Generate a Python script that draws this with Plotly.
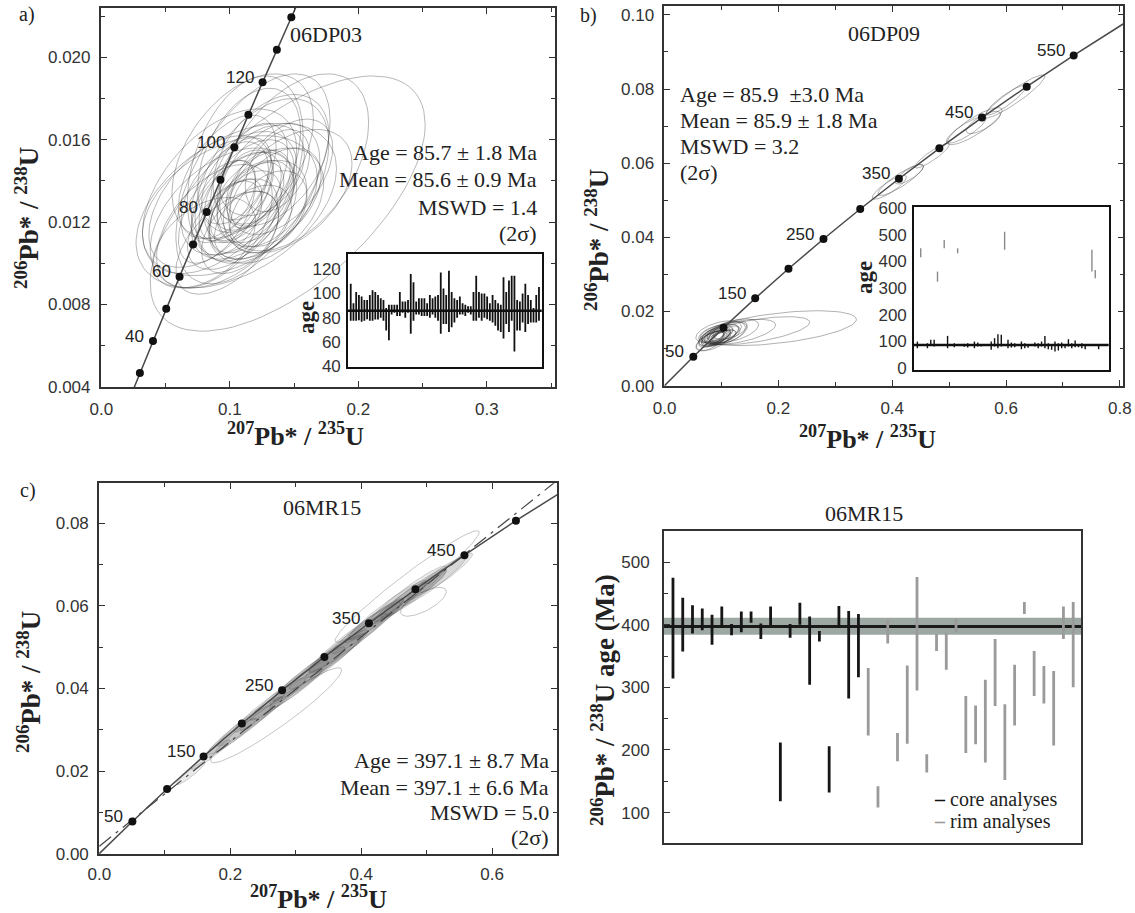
import numpy as np
import plotly.graph_objects as go

W, H = 1135, 913
SERIF = "Liberation Serif, Times New Roman, serif"
SANS = "Liberation Sans, Arial, sans-serif"
INK = "#333333"

# ---------------- data ----------------
# Concordia reference points (age in Ma, 207Pb*/235U, 206Pb*/238U)
conc_a_age = [20, 30, 40, 50, 60, 70, 80, 90, 100, 110, 120, 130, 140, 150]
conc_a_x = [0.01989, 0.02999, 0.04018, 0.05048, 0.06087, 0.07137, 0.08197,
            0.09268, 0.10350, 0.11442, 0.12545, 0.13659, 0.14784, 0.15920]
conc_a_y = [0.003107, 0.004665, 0.006224, 0.007786, 0.009351, 0.010918, 0.012487,
            0.014059, 0.015633, 0.017210, 0.018789, 0.020371, 0.021955, 0.023542]
conc_a_dots = [30, 40, 50, 60, 70, 80, 90, 100, 110, 120, 130, 140]
conc_a_labels = [40, 60, 80, 100, 120]

conc_bc_age = [0, 50, 100, 150, 200, 250, 300, 350, 400, 450, 500, 550, 600]
conc_bc_x = [0.0, 0.05048, 0.10350, 0.15920, 0.21771, 0.27917, 0.34374,
             0.41176, 0.48281, 0.55766, 0.63628, 0.71887, 0.80563]
conc_bc_y = [0.0, 0.007786, 0.015633, 0.023542, 0.031511, 0.039543, 0.047637,
             0.055795, 0.064016, 0.072300, 0.080650, 0.089064, 0.097544]
conc_b_dots = [50, 100, 150, 200, 250, 300, 350, 400, 450, 500, 550]
conc_b_labels = [50, 150, 250, 350, 450, 550]
conc_c_dots = [50, 100, 150, 200, 250, 300, 350, 400, 450, 500]
conc_c_labels = [50, 150, 250, 350, 450]

# reference (regression) line in panel c
c_ref_x = [0.0, 0.70]
c_ref_y = [0.0018, 0.0905]

# error ellipses: centre, half-widths, correlation
ell_a_cx = [0.145, 0.150, 0.118, 0.105, 0.100, 0.095, 0.112, 0.125, 0.088, 0.080,
            0.130, 0.115, 0.108, 0.120, 0.112, 0.100, 0.125, 0.095, 0.135, 0.105,
            0.118, 0.140, 0.090, 0.110, 0.128, 0.102, 0.122, 0.098, 0.132, 0.085,
            0.108, 0.145, 0.115, 0.092, 0.120, 0.105, 0.112, 0.100, 0.130, 0.115,
            0.098, 0.137, 0.107, 0.122, 0.110]
ell_a_cy = [0.0129, 0.0149, 0.0141, 0.0128, 0.0128, 0.0122, 0.0146, 0.0140, 0.0118, 0.0110,
            0.0138, 0.0135, 0.0132, 0.0130, 0.0125, 0.0135, 0.0145, 0.0130, 0.0132, 0.0140,
            0.0120, 0.0142, 0.0125, 0.0128, 0.0128, 0.0119, 0.0137, 0.0142, 0.0150, 0.0130,
            0.0115, 0.0135, 0.0150, 0.0135, 0.0133, 0.0126, 0.0138, 0.0122, 0.0125, 0.0142,
            0.0110, 0.0145, 0.0134, 0.0126, 0.0152]
ell_a_sx = [0.107, 0.058, 0.060, 0.078, 0.068, 0.057, 0.045, 0.052, 0.045, 0.040,
            0.040, 0.035, 0.032, 0.030, 0.028, 0.030, 0.033, 0.025, 0.036, 0.027,
            0.030, 0.040, 0.030, 0.040, 0.045, 0.035, 0.025, 0.038, 0.045, 0.048,
            0.030, 0.050, 0.040, 0.060, 0.022, 0.020, 0.022, 0.025, 0.030, 0.030,
            0.040, 0.025, 0.045, 0.038, 0.055]
ell_a_sy = [0.0062, 0.0043, 0.0051, 0.0040, 0.0034, 0.0034, 0.0045, 0.0040, 0.0030, 0.0022,
            0.0030, 0.0025, 0.0022, 0.0020, 0.0020, 0.0024, 0.0022, 0.0020, 0.0024, 0.0021,
            0.0018, 0.0028, 0.0025, 0.0026, 0.0028, 0.0022, 0.0018, 0.0030, 0.0032, 0.0032,
            0.0020, 0.0030, 0.0035, 0.0040, 0.0016, 0.0015, 0.0017, 0.0018, 0.0020, 0.0026,
            0.0025, 0.0020, 0.0030, 0.0024, 0.0040]
ell_a_rho = [0.62, 0.45, 0.55, 0.45, 0.40, 0.45, 0.35, 0.45, 0.50, 0.45,
             0.40, 0.45, 0.50, 0.40, 0.45, 0.45, 0.35, 0.55, 0.45, 0.50,
             0.40, 0.50, 0.55, 0.45, 0.40, 0.50, 0.45, 0.50, 0.40, 0.50,
             0.45, 0.45, 0.40, 0.50, 0.45, 0.50, 0.40, 0.45, 0.40, 0.45,
             0.55, 0.40, 0.45, 0.40, 0.45]

ell_b_cx = [0.200, 0.160, 0.130, 0.095, 0.090, 0.100, 0.085, 0.105, 0.092, 0.098,
            0.088, 0.110, 0.082, 0.095, 0.120, 0.090, 0.100, 0.086, 0.105, 0.095,
            0.093, 0.097, 0.089, 0.102, 0.087, 0.108, 0.080, 0.115,
            0.415, 0.395, 0.430, 0.545, 0.560, 0.530, 0.615, 0.600, 0.470]
ell_b_cy = [0.0155, 0.0148, 0.0145, 0.0135, 0.0130, 0.0138, 0.0128, 0.0140, 0.0132, 0.0136,
            0.0133, 0.0142, 0.0125, 0.0128, 0.0148, 0.0140, 0.0130, 0.0122, 0.0133, 0.0145,
            0.0134, 0.0131, 0.0137, 0.0135, 0.0130, 0.0138, 0.0120, 0.0150,
            0.0555, 0.0535, 0.0570, 0.0700, 0.0710, 0.0690, 0.0780, 0.0770, 0.0620]
ell_b_sx = [0.137, 0.095, 0.065, 0.035, 0.025, 0.030, 0.020, 0.040, 0.018, 0.022,
            0.028, 0.032, 0.022, 0.015, 0.045, 0.030, 0.026, 0.030, 0.020, 0.040,
            0.012, 0.016, 0.020, 0.014, 0.016, 0.025, 0.025, 0.030,
            0.040, 0.030, 0.025, 0.048, 0.030, 0.035, 0.053, 0.035, 0.030]
ell_b_sy = [0.0047, 0.0038, 0.0034, 0.0030, 0.0025, 0.0028, 0.0020, 0.0032, 0.0018, 0.0022,
            0.0026, 0.0030, 0.0022, 0.0016, 0.0032, 0.0024, 0.0020, 0.0028, 0.0018, 0.0030,
            0.0013, 0.0017, 0.0019, 0.0015, 0.0018, 0.0023, 0.0026, 0.0025,
            0.0042, 0.0032, 0.0026, 0.0050, 0.0030, 0.0036, 0.0058, 0.0040, 0.0033]
ell_b_rho = [0.50, 0.60, 0.55, 0.60, 0.60, 0.60, 0.60, 0.55, 0.60, 0.60,
             0.55, 0.50, 0.60, 0.60, 0.50, 0.50, 0.60, 0.60, 0.55, 0.50,
             0.60, 0.60, 0.60, 0.60, 0.60, 0.55, 0.60, 0.50,
             0.88, 0.85, 0.80, 0.85, 0.75, 0.85, 0.93, 0.90, 0.90]

# panel c: tightly correlated ellipses along concordia
ell_c_cx = [0.140, 0.170, 0.200, 0.230, 0.260, 0.290, 0.320, 0.350, 0.380, 0.410,
            0.440, 0.480, 0.510, 0.530, 0.500, 0.300, 0.360, 0.420, 0.250, 0.460,
            0.215, 0.330, 0.390, 0.470]
ell_c_cy = [0.0195, 0.0240, 0.0280, 0.0320, 0.0360, 0.0395, 0.0435, 0.0470, 0.0510, 0.0550,
            0.0590, 0.0630, 0.0660, 0.0680, 0.0650, 0.0400, 0.0480, 0.0565, 0.0340, 0.0610,
            0.0300, 0.0445, 0.0525, 0.0625]
ell_c_sx = [0.022, 0.030, 0.040, 0.050, 0.055, 0.060, 0.055, 0.060, 0.060, 0.055,
            0.060, 0.050, 0.050, 0.040, 0.030, 0.040, 0.045, 0.045, 0.035, 0.040,
            0.050, 0.070, 0.070, 0.060]
ell_c_sy = [0.0028, 0.0036, 0.0048, 0.0060, 0.0066, 0.0072, 0.0066, 0.0072, 0.0072, 0.0066,
            0.0072, 0.0060, 0.0060, 0.0048, 0.0036, 0.0048, 0.0054, 0.0054, 0.0042, 0.0048,
            0.0060, 0.0084, 0.0084, 0.0072]
ell_c_rho = [0.94, 0.955, 0.955, 0.955, 0.96, 0.96, 0.955, 0.96, 0.96, 0.955,
             0.955, 0.95, 0.95, 0.94, 0.93, 0.95, 0.955, 0.955, 0.95, 0.95,
             0.955, 0.965, 0.965, 0.955]
# panel c: wide, weakly constrained ellipses
ell_cw_cx = [0.270, 0.470, 0.495]
ell_cw_cy = [0.0335, 0.0647, 0.0610]
ell_cw_sx = [0.100, 0.110, 0.035]
ell_cw_sy = [0.0115, 0.0135, 0.0035]
ell_cw_rho = [0.95, 0.97, 0.70]

# inset a: individual 206Pb/238U ages (Ma), 2-sigma range
inset_a_hi = [107.9, 91.9, 101.2, 98.6, 97.3, 94.6, 94.6, 98.6, 102.6, 101.2,
              98.6, 95.9, 94.6, 87.9, 90.6, 90.6, 90.6, 90.6, 101.2, 93.3,
              93.3, 94.6, 115.9, 109.2, 93.3, 95.9, 95.9, 95.9, 91.9, 98.6,
              95.9, 97.3, 98.6, 117.2, 103.9, 98.6, 118.6, 101.2, 95.9, 94.6,
              97.3, 91.9, 90.6, 89.3, 89.3, 101.2, 114.6, 101.2, 99.9, 99.9,
              97.3, 91.9, 98.6, 94.6, 91.9, 90.6, 113.2, 101.2, 110.6, 114.6,
              114.6, 94.6, 93.3, 99.9, 107.9, 98.6, 94.6, 87.9, 98.6, 105.2]
inset_a_lo = [77.3, 77.3, 77.3, 77.8, 76.5, 77.3, 78.6, 77.3, 77.3, 78.3,
              78.3, 79.9, 77.3, 69.3, 61.3, 82.6, 83.9, 81.3, 81.3, 83.9,
              79.9, 83.9, 66.6, 77.3, 82.6, 82.6, 81.3, 81.3, 81.3, 79.9,
              82.6, 79.9, 77.3, 66.6, 74.6, 74.6, 68.0, 72.0, 75.9, 79.9,
              82.6, 82.6, 81.3, 83.9, 82.6, 77.3, 77.3, 79.9, 77.3, 79.9,
              78.6, 77.3, 75.9, 73.3, 69.3, 68.0, 62.6, 74.6, 68.0, 77.3,
              52.0, 69.3, 69.3, 75.9, 68.0, 74.6, 75.9, 75.9, 75.9, 77.3]
inset_a_mean = 85.6

# inset b: analysis number, age range (Ma)
inset_b_core_n = [1, 4, 5, 6, 10, 12, 15, 16, 18, 19, 20, 23, 24, 25, 26, 28, 29, 30, 32,
                  33, 34, 36, 37, 38, 39, 40, 41, 42, 43, 44, 45, 46, 47, 48, 49, 50, 51, 55]
inset_b_core_hi = [99.0, 92.7, 105.3, 105.3, 120.3, 92.7, 90.2, 92.7, 99.0, 95.2, 90.2, 99.0,
                   111.5, 126.6, 124.1, 105.3, 95.2, 92.7, 99.0, 92.7, 90.2, 95.2, 92.7, 99.0,
                   120.3, 92.7, 90.2, 99.0, 92.7, 95.2, 90.2, 107.8, 92.7, 102.8, 90.2, 92.7,
                   86.5, 90.2]
inset_b_core_lo = [73.9, 73.9, 84.0, 80.2, 73.9, 77.7, 79.0, 76.4, 73.9, 80.2, 80.2, 67.7,
                   80.2, 73.9, 80.2, 73.9, 76.4, 77.7, 70.2, 73.9, 75.2, 80.2, 73.9, 80.2,
                   73.9, 70.2, 67.7, 61.4, 65.2, 73.9, 73.9, 80.2, 73.9, 77.7, 77.7, 73.9,
                   70.2, 70.2]
inset_b_old_n = [2, 7, 9, 13, 27, 53, 54]
inset_b_old_hi = [450, 362, 481, 450, 512, 444, 368]
inset_b_old_lo = [416, 324, 450, 431, 444, 362, 337]
inset_b_mean = 85.9

# panel d: 06MR15 206Pb/238U ages (Ma)
core_n = list(range(1, 21))
core_hi = [475, 443, 431, 426, 416, 429, 401, 421, 421, 402,
           429, 212, 401, 435, 413, 390, 206, 430, 422, 417]
core_lo = [314, 357, 386, 391, 368, 395, 383, 388, 403, 377,
           399, 118, 379, 400, 304, 373, 132, 396, 282, 316]
rim_n = list(range(21, 43))
rim_hi = [331, 142, 408, 227, 335, 476, 193, 385, 387, 409, 286,
          271, 312, 377, 273, 336, 436, 358, 334, 326, 429, 436]
rim_lo = [223, 108, 370, 182, 210, 295, 164, 358, 328, 388, 195,
          209, 180, 270, 152, 239, 417, 286, 274, 207, 377, 300]
d_mean = 397.1
d_band_lo = 384
d_band_hi = 411

# ---------------- figure ----------------
fig = go.Figure()


def ellipse_xy(cx, cy, sx, sy, rho, n=90):
    t = np.linspace(0, 2 * np.pi, n)
    x = cx + sx * np.cos(t)
    y = cy + sy * (rho * np.cos(t) + np.sqrt(1 - rho ** 2) * np.sin(t))
    return x, y


def add_ellipses(cx, cy, sx, sy, rho, xa, ya, color, width, fill=None):
    for a, b, c, d, e in zip(cx, cy, sx, sy, rho):
        x, y = ellipse_xy(a, b, c, d, e)
        kw = {}
        if fill:
            kw = dict(fill="toself", fillcolor=fill)
        fig.add_trace(go.Scatter(x=x, y=y, xaxis=xa, yaxis=ya, mode="lines",
                                 line=dict(color=color, width=width),
                                 hoverinfo="skip", showlegend=False, **kw))


def add_concordia(cx, cy, ages, dots, xa, ya):
    fig.add_trace(go.Scatter(x=cx, y=cy, xaxis=xa, yaxis=ya, mode="lines",
                             line=dict(color="#4a4a4a", width=1.5),
                             hoverinfo="skip", showlegend=False))
    dx = [x for x, a in zip(cx, ages) if a in dots]
    dy = [y for y, a in zip(cy, ages) if a in dots]
    fig.add_trace(go.Scatter(x=dx, y=dy, xaxis=xa, yaxis=ya, mode="markers",
                             marker=dict(color="#111", size=8),
                             hoverinfo="skip", showlegend=False))


def add_bars(n, lo, hi, xa, ya, color, width):
    fig.add_trace(go.Scatter(
        x=n, y=lo, xaxis=xa, yaxis=ya, mode="markers",
        marker=dict(size=1, opacity=0),
        error_y=dict(type="data", symmetric=False,
                     array=[h - l for h, l in zip(hi, lo)],
                     arrayminus=[0] * len(lo), width=0, thickness=width, color=color),
        hoverinfo="skip", showlegend=False))


# panel a
add_ellipses(ell_a_cx, ell_a_cy, ell_a_sx, ell_a_sy, ell_a_rho, "x", "y",
             "rgba(40,40,40,0.33)", 1)
add_concordia(conc_a_x, conc_a_y, conc_a_age, conc_a_dots, "x", "y")
# panel b
add_ellipses(ell_b_cx, ell_b_cy, ell_b_sx, ell_b_sy, ell_b_rho, "x3", "y3",
             "rgba(40,40,40,0.36)", 1)
add_concordia(conc_bc_x, conc_bc_y, conc_bc_age, conc_b_dots, "x3", "y3")
# panel c
add_ellipses(ell_cw_cx, ell_cw_cy, ell_cw_sx, ell_cw_sy, ell_cw_rho, "x5", "y5",
             "rgba(90,90,90,0.35)", 1)
add_ellipses(ell_c_cx, ell_c_cy, ell_c_sx, ell_c_sy, ell_c_rho, "x5", "y5",
             "rgba(60,60,60,0.28)", 0.8, fill="rgba(50,50,50,0.10)")
fig.add_trace(go.Scatter(x=c_ref_x, y=c_ref_y, xaxis="x5", yaxis="y5", mode="lines",
                         line=dict(color="#444", width=1.2, dash="longdashdot"),
                         hoverinfo="skip", showlegend=False))
add_concordia(conc_bc_x, conc_bc_y, conc_bc_age, conc_c_dots, "x5", "y5")

# inset a
inset_a_n = list(range(1, len(inset_a_hi) + 1))
add_bars(inset_a_n, inset_a_lo, inset_a_hi, "x2", "y2", "#111", 1.8)
# inset b
add_bars(inset_b_core_n, inset_b_core_lo, inset_b_core_hi, "x4", "y4", "#111", 1.4)
add_bars(inset_b_old_n, inset_b_old_lo, inset_b_old_hi, "x4", "y4", "#8a8a8a", 1.4)
# panel d
add_bars(core_n, core_lo, core_hi, "x6", "y6", "#151515", 2.8)
add_bars(rim_n, rim_lo, rim_hi, "x6", "y6", "#9a9a9a", 2.8)


def dom_x(p0, p1):
    return [p0 / W, p1 / W]


def dom_y(p_top, p_bot):
    return [1 - p_bot / H, 1 - p_top / H]


def main_axis(domain, rng, dtick, minor, fmt, anchor, standoff):
    return dict(domain=domain, range=rng, anchor=anchor, automargin=False,
                showline=True, mirror="allticks",
                linecolor=INK, linewidth=1.6, ticks="inside", ticklen=6, tickwidth=1.2,
                tickcolor=INK, tick0=0, dtick=dtick, tickformat=fmt,
                minor=dict(tick0=0, dtick=minor, ticks="inside", ticklen=4, tickwidth=1,
                           tickcolor=INK, showgrid=False),
                showgrid=False, zeroline=False, ticklabelstandoff=standoff,
                tickfont=dict(family=SANS, size=17, color="#333"))


def inset_x(domain, rng, anchor):
    return dict(domain=domain, range=rng, anchor=anchor, automargin=False,
                showline=True, mirror=True,
                linecolor="#111", linewidth=1.6, ticks="", showticklabels=False,
                showgrid=False, zeroline=False)


def inset_y(domain, rng, anchor, vals):
    return dict(domain=domain, range=rng, anchor=anchor, automargin=False,
                showline=True, mirror=True,
                linecolor="#111", linewidth=1.6, ticks="", tickvals=vals,
                showgrid=False, zeroline=False, ticklabelstandoff=2,
                tickfont=dict(family=SANS, size=17, color="#333"))


layout_axes = dict(
    xaxis=main_axis(dom_x(100.7, 555), [-0.0005, 0.353], 0.1, 0.05, ".1f", "y", 6),
    yaxis=main_axis(dom_y(8, 387), [0.00399, 0.0224], 0.004, 0.002, ".3f", "x", 5),
    xaxis2=inset_x(dom_x(348, 541.7), [0, 71], "y2"),
    yaxis2=inset_y(dom_y(254, 366.7), [39.4, 132.5], "x2", [40, 60, 80, 100, 120]),
    xaxis3=main_axis(dom_x(664.3, 1123.3), [-0.0005, 0.806], 0.2, 0.1, ".1f", "y3", 6),
    yaxis3=main_axis(dom_y(6, 386), [-0.0001, 0.1024], 0.02, 0.01, ".2f", "x3", 5),
    xaxis4=inset_x(dom_x(914, 1108.7), [0, 58], "y4"),
    yaxis4=inset_y(dom_y(206.7, 370), [-8, 606], "x4", [0, 100, 200, 300, 400, 500, 600]),
    xaxis5=main_axis(dom_x(99, 557), [-0.0005, 0.699], 0.2, 0.1, ".1f", "y5", 4),
    yaxis5=main_axis(dom_y(483.3, 854), [-0.0001, 0.0897], 0.02, 0.01, ".2f", "x5", 5),
    xaxis6=dict(domain=dom_x(664, 1081), range=[0.08, 42.8], anchor="y6", automargin=False,
                showline=True, mirror=True, linecolor=INK, linewidth=1.8, ticks="",
                showticklabels=False, showgrid=False, zeroline=False),
    yaxis6=dict(domain=dom_y(530.7, 842.7), range=[52, 550], anchor="x6", automargin=False,
                showline=True, mirror=True, linecolor=INK, linewidth=1.8, ticks="inside",
                ticklen=6, tickwidth=1.2, tickcolor=INK, tick0=0, dtick=100,
                minor=dict(tick0=0, dtick=50, ticks="inside", ticklen=4, tickcolor=INK),
                showgrid=False, zeroline=False, ticklabelstandoff=9,
                tickfont=dict(family=SANS, size=17, color="#333")),
)

shapes = [
    dict(type="rect", xref="x6 domain", yref="y6", x0=0, x1=1, y0=d_band_lo, y1=d_band_hi,
         fillcolor="#9ea8a3", line=dict(width=0), layer="below"),
    dict(type="line", xref="x6 domain", yref="y6", x0=0, x1=1, y0=d_mean, y1=d_mean,
         line=dict(color="#1a1a1a", width=3), layer="below"),
    dict(type="line", xref="x2 domain", yref="y2", x0=0, x1=1, y0=inset_a_mean,
         y1=inset_a_mean, line=dict(color="#111", width=2.5), layer="above"),
    dict(type="line", xref="x4 domain", yref="y4", x0=0, x1=1, y0=inset_b_mean,
         y1=inset_b_mean, line=dict(color="#111", width=2.5), layer="above"),
]

ann = []


def note(xp, yp, text, size=22, family=SERIF, xanchor="center", yanchor="middle",
         angle=0, color="#222"):
    ann.append(dict(xref="paper", yref="paper", x=xp / W, y=1 - yp / H, text=text,
                    showarrow=False, font=dict(family=family, size=size, color=color),
                    xanchor=xanchor, yanchor=yanchor, textangle=angle))


def age_labels(cx, cy, ages, labels, xa, ya):
    for x, y, a in zip(cx, cy, ages):
        if a in labels:
            ann.append(dict(xref=xa, yref=ya, x=x, y=y, text=str(a), showarrow=False,
                            xanchor="right", yanchor="middle", xshift=-7, yshift=5,
                            font=dict(family=SANS, size=17, color="#222")))


age_labels(conc_a_x, conc_a_y, conc_a_age, conc_a_labels, "x", "y")
age_labels(conc_bc_x, conc_bc_y, conc_bc_age, conc_b_labels, "x3", "y3")
age_labels(conc_bc_x, conc_bc_y, conc_bc_age, conc_c_labels, "x5", "y5")

XT = "<b><sup>207</sup>Pb* / <sup>235</sup>U</b>"
YT = "<b><sup>206</sup>Pb* / <sup>238</sup>U</b>"

# panel letters
note(27, 15, "a)", size=20)
note(589, 16, "b)", size=20)
note(28, 490, "c)", size=20)
# axis titles
note(295, 434, XT, size=26)
note(27, 218, YT, size=27, angle=-90)
note(867, 437, XT, size=26)
note(597, 240, YT, size=27, angle=-90)
note(318, 897, XT, size=26)
note(29, 682, YT, size=27, angle=-90)
note(603, 700, "<b><sup>206</sup>Pb* / <sup>238</sup>U age (Ma)</b>", size=27, angle=-90)
# sample names
note(288, 35, "06DP03", xanchor="left")
note(884, 33, "06DP09")
note(322, 508, "06MR15")
note(864, 513, "06MR15")
# statistics
for yy, t in zip([152, 180, 207, 233],
                 ["Age = 85.7 ± 1.8 Ma", "Mean = 85.6 ± 0.9 Ma", "MSWD = 1.4", "(2σ)"]):
    note(539, yy, t, xanchor="right")
for yy, t in zip([95, 121, 147, 173],
                 ["Age = 85.9 \u00a0±3.0 Ma", "Mean = 85.9 ± 1.8 Ma", "MSWD = 3.2", "(2σ)"]):
    note(678, yy, t, xanchor="left")
for yy, t in zip([760, 787, 812, 837],
                 ["Age = 397.1 ± 8.7 Ma", "Mean = 397.1 ± 6.6 Ma", "MSWD = 5.0", "(2σ)"]):
    note(551, yy, t, xanchor="right")
# inset titles
note(306, 318, "<b>age</b>", size=23, angle=-90)
note(864, 278, "<b>age</b>", size=23, angle=-90)
# panel d legend
note(932, 799, "<span style='color:#111'><b>–</b></span> core analyses", size=20,
     xanchor="left")
note(932, 821, "<span style='color:#9a9a9a'><b>–</b></span> rim analyses", size=20,
     xanchor="left")

fig.update_layout(template="none", width=W, height=H,
                  margin=dict(l=0, r=0, t=0, b=0, autoexpand=False),
                  paper_bgcolor="white", plot_bgcolor="white", showlegend=False,
                  shapes=shapes, annotations=ann, **layout_axes)

fig.write_html("out.html", config={"displayModeBar": False},
               post_script="document.body.style.margin='0';"
                           "document.body.style.overflow='hidden';")
